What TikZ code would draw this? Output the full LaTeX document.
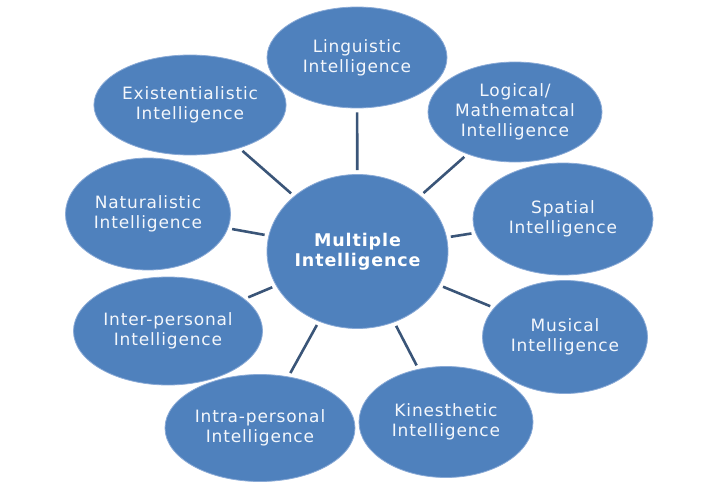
\documentclass[tikz,border=0pt]{standalone}
\usepackage{fontspec}
\setmainfont{DejaVu Sans}
\usetikzlibrary{shapes.geometric}
\definecolor{bubble}{HTML}{4F81BD}
\definecolor{rim}{HTML}{8AAAD6}
\definecolor{link}{HTML}{3A5578}
\definecolor{label}{HTML}{F4F7FC}
\tikzset{
  bub/.style={ellipse, fill=bubble, draw=rim, line width=0.8pt, inner sep=0pt,
    text=label, align=center,
    font=\fontsize{17}{20}\selectfont\addfontfeature{LetterSpace=5}},
  hub/.style={bub, text=white, font=\fontsize{17.5}{20.5}\selectfont\bfseries\addfontfeature{LetterSpace=5}},
  link/.style={draw=link, line width=2.6pt, shorten <=4pt, shorten >=4pt}
}
\begin{document}
\begin{tikzpicture}[x=1pt,y=-1pt]
\useasboundingbox (0,0) rectangle (720,492);
\node[hub, minimum width=181pt, minimum height=154pt] (c) at (357.5,251.5) {Multiple\\Intelligence};
\node[bub, minimum width=180pt, minimum height=101pt] (ling) at (357,57.5) {Linguistic\\Intelligence};
\node[bub, minimum width=174pt, minimum height=100pt] (logi) at (515,112) {Logical/\\Mathematcal\\Intelligence};
\node[bub, minimum width=180pt, minimum height=112pt] (spat) at (563,219) {Spatial\\Intelligence};
\node[bub, minimum width=165pt, minimum height=113pt] (musi) at (565,337) {Musical\\Intelligence};
\node[bub, minimum width=174pt, minimum height=111pt] (kine) at (446,422) {Kinesthetic\\Intelligence};
\node[bub, minimum width=190pt, minimum height=107pt] (intra) at (260,428) {Intra-personal\\Intelligence};
\node[bub, minimum width=189pt, minimum height=108pt] (inter) at (168,331) {Inter-personal\\Intelligence};
\node[bub, minimum width=165pt, minimum height=112pt] (natu) at (148,214) {Naturalistic\\Intelligence};
\node[bub, minimum width=185pt, minimum height=100pt] (exis) at (190,105) {Existentialistic\\Intelligence};
\foreach \n in {ling,logi,spat,musi,kine,intra,inter,natu,exis}
  \path[link] (c) -- (\n);
\end{tikzpicture}
\end{document}
